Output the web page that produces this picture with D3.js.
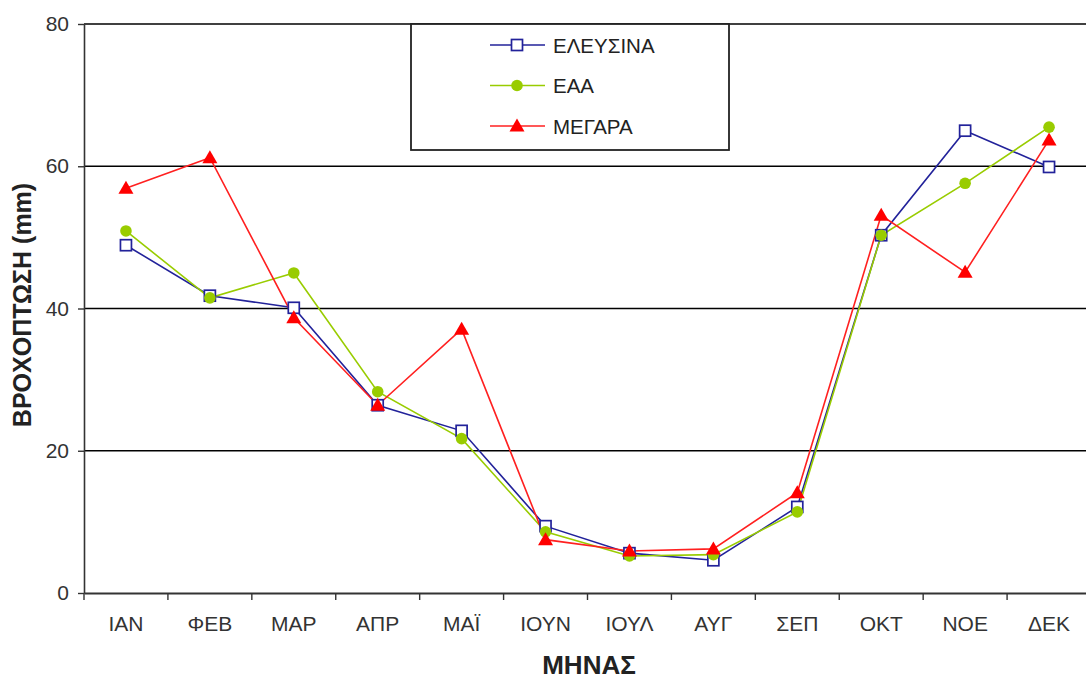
<!DOCTYPE html>
<html>
<head>
<meta charset="utf-8">
<script src="https://cdn.jsdelivr.net/npm/d3@7"></script>
<style>
  html, body { margin: 0; padding: 0; background: #fff; }
  svg { display: block; font-family: "Liberation Sans", Arial, sans-serif; }
</style>
</head>
<body>
<svg id="chart" width="1086" height="679"></svg>
<script>
// Monthly rainfall (mm) at three stations
const months = ["ΙΑΝ", "ΦΕΒ", "ΜΑΡ", "ΑΠΡ", "ΜΑΪ", "ΙΟΥΝ", "ΙΟΥΛ", "ΑΥΓ", "ΣΕΠ", "ΟΚΤ", "ΝΟΕ", "ΔΕΚ"];
const elefsina = [48.9, 41.8, 40.1, 26.4, 22.8, 9.4, 5.6, 4.6, 12.1, 50.3, 65.0, 59.9];
const eaa      = [50.9, 41.5, 45.0, 28.3, 21.7, 8.6, 5.2, 5.4, 11.4, 50.3, 57.6, 65.5];
const megara   = [56.9, 61.2, 38.7, 26.4, 37.1, 7.5, 5.9, 6.2, 14.1, 53.1, 45.1, 63.7];
const yTicks = [0, 20, 40, 60, 80];

const series = [
  { name: "ΕΛΕΥΣΙΝΑ", values: elefsina, color: "#22229a", marker: "square" },
  { name: "ΕΑΑ",      values: eaa,      color: "#99cc00", marker: "circle" },
  { name: "ΜΕΓΑΡΑ",   values: megara,   color: "#ff2020", marker: "triangle" }
];

const svg = d3.select("#chart");
const plotLeft = 84, plotRight = 1091, plotTop = 24, plotBottom = 593;

const x = d3.scaleBand().domain(months).range([plotLeft, plotRight]);
const y = d3.scaleLinear().domain([0, 80]).range([plotBottom, plotTop]);

// horizontal gridlines
svg.append("g").selectAll("line")
  .data(yTicks.filter(t => t > 0))
  .join("line")
  .attr("x1", plotLeft).attr("x2", 1086)
  .attr("y1", d => y(d)).attr("y2", d => y(d))
  .attr("stroke", "#000").attr("stroke-width", 1.6);

// y axis
const yAxis = svg.append("g")
  .attr("transform", `translate(${plotLeft},0)`)
  .call(d3.axisLeft(y).tickValues(yTicks).tickSize(6).tickPadding(9).tickSizeOuter(0));
yAxis.select(".domain").attr("stroke", "#333").attr("stroke-width", 1.6);
yAxis.selectAll(".tick line").attr("stroke", "#333").attr("stroke-width", 1.4);
yAxis.selectAll(".tick text").attr("font-size", 21).attr("fill", "#333")
  .attr("font-family", "Liberation Sans, Arial, sans-serif");

// x axis
const xAxis = svg.append("g")
  .attr("transform", `translate(0,${plotBottom})`)
  .call(d3.axisBottom(x).tickSize(0).tickPadding(23).tickSizeOuter(0));
xAxis.select(".domain").attr("stroke", "#333").attr("stroke-width", 1.8);
xAxis.selectAll(".tick text").attr("font-size", 21).attr("fill", "#333")
  .attr("font-family", "Liberation Sans, Arial, sans-serif");
// category separators below the axis
svg.append("g").selectAll("line")
  .data(months)
  .join("line")
  .attr("x1", d => x(d)).attr("x2", d => x(d))
  .attr("y1", plotBottom).attr("y2", plotBottom + 7)
  .attr("stroke", "#333").attr("stroke-width", 1.4);

// axis titles
svg.append("text")
  .attr("transform", `translate(31,305) rotate(-90)`)
  .attr("text-anchor", "middle")
  .attr("font-size", 25).attr("font-weight", "bold").attr("fill", "#222")
  .text("ΒΡΟΧΟΠΤΩΣΗ (mm)");
svg.append("text")
  .attr("x", 589).attr("y", 674)
  .attr("text-anchor", "middle")
  .attr("font-size", 26).attr("font-weight", "bold").attr("fill", "#222")
  .text("ΜΗΝΑΣ");

// markers
function drawMarker(g, type, color) {
  if (type === "square") {
    g.append("rect").attr("x", -5.5).attr("y", -5.5).attr("width", 11).attr("height", 11)
      .attr("fill", "#fff").attr("stroke", color).attr("stroke-width", 1.7);
  } else if (type === "circle") {
    g.append("circle").attr("r", 5.8).attr("fill", color);
  } else {
    g.append("path").attr("d", "M0,-7.5 L7.5,5.5 L-7.5,5.5 Z").attr("fill", "#ff0000");
  }
}

const cx = m => x(m) + x.bandwidth() / 2;
const line = d3.line().x((d, i) => cx(months[i])).y(d => y(d));

series.forEach(s => {
  svg.append("path")
    .datum(s.values)
    .attr("fill", "none")
    .attr("stroke", s.color)
    .attr("stroke-width", 1.6)
    .attr("d", line);
});
series.forEach(s => {
  svg.append("g").selectAll("g")
    .data(s.values)
    .join("g")
    .attr("transform", (d, i) => `translate(${cx(months[i])},${y(d)})`)
    .each(function () { drawMarker(d3.select(this), s.marker, s.color); });
});

// legend
const legend = svg.append("g");
legend.append("rect")
  .attr("x", 411).attr("y", 24).attr("width", 318).attr("height", 126)
  .attr("fill", "#fff").attr("stroke", "#222").attr("stroke-width", 1.8);
series.forEach((s, i) => {
  const ly = 45 + i * 40.5;
  const g = legend.append("g");
  g.append("line").attr("x1", 490).attr("x2", 545).attr("y1", ly).attr("y2", ly)
    .attr("stroke", s.color).attr("stroke-width", 1.6);
  drawMarker(g.append("g").attr("transform", `translate(517,${ly})`), s.marker, s.color);
  g.append("text").attr("x", 553).attr("y", ly + 7.5)
    .attr("font-size", 20.5).attr("fill", "#222")
    .text(s.name);
});
</script>
</body>
</html>
